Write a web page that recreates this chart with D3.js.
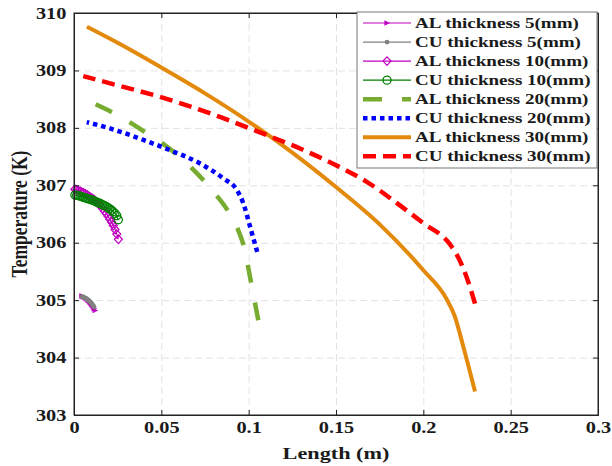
<!DOCTYPE html>
<html><head><meta charset="utf-8">
<script src="https://cdn.jsdelivr.net/npm/d3@7"></script>
<style>
body{margin:0;background:#fff;}
svg text{font-family:"Liberation Serif","Times New Roman",serif;font-weight:bold;fill:#1a1a1a;}
</style></head><body>
<svg id="chart" width="612" height="466"></svg>
<script>
// Axis ticks
const xTicks = [0, 0.05, 0.1, 0.15, 0.2, 0.25, 0.3];
const yTicks = [303, 304, 305, 306, 307, 308, 309, 310];

// Legend labels
const seriesLabels = [
  "AL thickness 5(mm)", "CU thickness 5(mm)",
  "AL thickness 10(mm)", "CU thickness 10(mm)",
  "AL thickness 20(mm)", "CU thickness 20(mm)",
  "AL thickness 30(mm)", "CU thickness 30(mm)"
];

// Temperature (K) along the length (m) for each plate
const al5X = [0.0045,0.0050,0.0055,0.0060,0.0065,0.0070,0.0075,0.0080,0.0085,0.0090,0.0095,0.0100,0.0105,0.0110,0.0115,0.0121];
const al5T = [305.07,305.065,305.06,305.05,305.04,305.03,305.02,305.00,304.99,304.97,304.95,304.93,304.91,304.88,304.85,304.82];
const cu5X = [0.0046,0.0051,0.0056,0.0061,0.0066,0.0071,0.0076,0.0081,0.0086,0.0091,0.0096,0.0101,0.0106,0.0111,0.0115];
const cu5T = [305.06,305.055,305.05,305.04,305.035,305.025,305.015,305.00,304.99,304.975,304.96,304.94,304.92,304.90,304.88];

const al10X = [0.0005,0.0015,0.0025,0.0035,0.0045,0.0055,0.0065,0.0075,0.0085,0.0095,0.0105,0.0115,0.0125,0.0135,0.0145,0.0155,0.0165,0.0175,0.0185,0.0195,0.0205,0.0215,0.0225,0.0235,0.0245,0.0254];
const al10T = [306.93,306.92,306.91,306.895,306.88,306.865,306.85,306.83,306.81,306.79,306.77,306.75,306.72,306.69,306.66,306.63,306.59,306.55,306.51,306.46,306.41,306.36,306.30,306.23,306.15,306.06];
const cu10X = [0.0005,0.0015,0.0025,0.0035,0.0045,0.0055,0.0065,0.0075,0.0085,0.0095,0.0105,0.0115,0.0125,0.0135,0.0145,0.0155,0.0165,0.0175,0.0185,0.0195,0.0205,0.0215,0.0225,0.0235,0.0245,0.0254];
const cu10T = [306.83,306.825,306.82,306.81,306.80,306.79,306.78,306.77,306.76,306.75,306.74,306.73,306.715,306.70,306.69,306.675,306.66,306.645,306.63,306.61,306.59,306.565,306.54,306.51,306.47,306.40];

const al20X = [0.0124,0.025,0.04,0.055,0.07,0.08,0.088,0.094,0.098,0.1005,0.103,0.1055];
const al20T = [308.41,308.22,307.94,307.63,307.22,306.88,306.56,306.22,305.85,305.45,305.05,304.65];
const cu20X = [0.0073,0.0206,0.0397,0.0550,0.0722,0.0855,0.0932,0.0969,0.1008,0.1049];
const cu20T = [308.10,307.99,307.79,307.61,307.38,307.12,306.92,306.69,306.28,305.84];

const al30X = [0.0074,0.025,0.05,0.075,0.1,0.125,0.15,0.175,0.2,0.2133,0.218,0.2229,0.2296];
const al30T = [309.76,309.48,309.05,308.60,308.11,307.57,306.97,306.32,305.52,305.02,304.72,304.19,303.41];
const cu30X = [0.0053,0.025,0.0492,0.0836,0.1065,0.1294,0.15,0.1676,0.1866,0.2,0.2153,0.219,0.2248,0.2296];
const cu30T = [308.90,308.74,308.54,308.19,307.92,307.64,307.35,307.06,306.65,306.34,305.97,305.80,305.40,304.94];

// Drawing styles per series, in legend order
const styles = [
  {color:"#c000c0", width:1.2, dash:null, marker:"tri"},
  {color:"#808080", width:1.2, dash:null, marker:"dot"},
  {color:"#c000c0", width:1.2, dash:null, marker:"diamond"},
  {color:"#008000", width:1.2, dash:null, marker:"circle"},
  {color:"#77ac30", width:4.5, dash:[17,19], fit:"both", marker:null},
  {color:"#0000ff", width:4.5, dash:[4.5,4], fit:"end", marker:null},
  {color:"#e38a0c", width:4,   dash:null, marker:null},
  {color:"#ff0000", width:4.5, dash:[13,7], fit:"end", marker:null}
];
const seriesData = [
  [al5X, al5T], [cu5X, cu5T], [al10X, al10T], [cu10X, cu10T],
  [al20X, al20T], [cu20X, cu20T], [al30X, al30T], [cu30X, cu30T]
];

const SX = 1.27; // horizontal stretch of the lettering
const svg = d3.select("#chart");
const m = {left:74, top:13, right:14, bottom:51};
const W = 612 - m.left - m.right, H = 466 - m.top - m.bottom;
const g = svg.append("g").attr("transform", `translate(${m.left},${m.top})`);

const x = d3.scaleLinear().domain([0, 0.3]).range([0, W]);
const y = d3.scaleLinear().domain([303, 310]).range([H, 0]);

// Grid
const gridStyle = sel => {
  sel.select(".domain").remove();
  sel.selectAll(".tick line").attr("stroke", "#e2e2e2").attr("stroke-width", 1).attr("stroke-dasharray", "7,4");
};
g.append("g").call(d3.axisBottom(x).tickValues(xTicks).tickSize(H).tickFormat(""))
  .call(gridStyle);
g.append("g").call(d3.axisLeft(y).tickValues(yTicks).tickSize(-W).tickFormat(""))
  .call(gridStyle);

// Markers
const markerPath = {
  tri: "M-2.6,-2.8L3,0L-2.6,2.8Z",
  diamond: "M0,-4.3L4,0L0,4.3L-4,0Z"
};
function drawMarker(sel, type, color) {
  if (type === "circle") {
    sel.append("circle").attr("r", 4).attr("fill", "none").attr("stroke", color).attr("stroke-width", 1.3);
  } else if (type === "dot") {
    sel.append("circle").attr("r", 2.4).attr("fill", color);
  } else if (type === "tri") {
    sel.append("path").attr("d", markerPath.tri).attr("fill", color);
  } else if (type === "diamond") {
    sel.append("path").attr("d", markerPath.diamond).attr("fill", "none").attr("stroke", color).attr("stroke-width", 1.2);
  }
}

// Lines
const line = d3.line().x(d => x(d[0])).y(d => y(d[1])).curve(d3.curveMonotoneX);
const plotG = g.append("g");
seriesData.forEach(([xs, ts], i) => {
  const st = styles[i];
  const pts = xs.map((v, j) => [v, ts[j]]);
  const p = plotG.append("path").datum(pts)
    .attr("d", line)
    .attr("fill", "none")
    .attr("stroke", st.color)
    .attr("stroke-width", st.width)
    .attr("stroke-linejoin", "round");
  if (st.dash) {
    const L = p.node().getTotalLength();
    let [d, gap] = st.dash;
    const P = d + gap;
    if (st.fit === "both") {
      // stretch the pattern so the line starts and ends on a dash
      const n = Math.max(1, Math.round((L - d) / P));
      const s = L / (n * P + d);
      d *= s; gap *= s;
      p.attr("stroke-dasharray", `${d},${gap}`);
    } else {
      // phase the pattern so the line ends on a dash
      const off = ((d - (L % P)) % P + P) % P;
      p.attr("stroke-dasharray", `${d},${gap}`).attr("stroke-dashoffset", off);
    }
  }
  if (st.marker) {
    pts.forEach(q => {
      const mg = plotG.append("g").attr("transform", `translate(${x(q[0])},${y(q[1])})`);
      drawMarker(mg, st.marker, st.color);
    });
  }
});

// Axes with inward ticks
const axStyle = sel => {
  sel.select(".domain").attr("stroke", "#222");
  sel.selectAll(".tick line").attr("stroke", "#222");
};
const xa = g.append("g").attr("transform", `translate(0,${H})`)
  .call(d3.axisBottom(x).tickValues(xTicks).tickSize(-5).tickPadding(6.5).tickFormat(d3.format("")))
  .call(axStyle);
xa.selectAll("text").attr("font-size", 16).attr("fill", "#1a1a1a")
  .attr("font-family", "Liberation Serif").attr("font-weight", "bold")
  .attr("transform", `scale(${SX},1)`);
const ya = g.append("g")
  .call(d3.axisLeft(y).tickValues(yTicks).tickSize(-5).tickPadding(6).tickFormat(d3.format("d")))
  .call(axStyle);
ya.selectAll("text").attr("font-size", 16).attr("fill", "#1a1a1a")
  .attr("font-family", "Liberation Serif").attr("font-weight", "bold")
  .attr("transform", `scale(${SX},1)`);
g.append("g").call(d3.axisTop(x).tickValues(xTicks).tickSize(-5).tickFormat("")).call(axStyle);
g.append("g").attr("transform", `translate(${W},0)`)
  .call(d3.axisRight(y).tickValues(yTicks).tickSize(-5).tickFormat("")).call(axStyle);
g.append("rect").attr("width", W).attr("height", H).attr("fill", "none").attr("stroke", "#222");

// Axis titles
svg.append("text").attr("transform", `translate(336,459) scale(${SX},1)`)
  .attr("text-anchor", "middle").attr("font-size", 17.5).text("Length (m)");
svg.append("text").attr("transform", `translate(27,214) scale(${SX},1) rotate(-90)`)
  .attr("text-anchor", "middle").attr("font-size", 17.5).text("Temperature (K)");

// Legend
const lg = svg.append("g");
lg.append("rect").attr("x", 357).attr("y", 12).attr("width", 240).attr("height", 156)
  .attr("fill", "#fff").attr("stroke", "#777").attr("stroke-width", 1);
seriesLabels.forEach((lab, i) => {
  const cy = 23 + i * 19.05;
  const st = styles[i];
  lg.append("line").attr("x1", 363).attr("x2", 411).attr("y1", cy).attr("y2", cy)
    .attr("stroke", st.color).attr("stroke-width", st.width)
    .attr("stroke-dasharray", st.dash ? (st.fit === "both" ? "19,20" : st.dash.join(",")) : null);
  if (st.marker) {
    drawMarker(lg.append("g").attr("transform", `translate(387,${cy})`), st.marker, st.color);
  }
  lg.append("text").attr("transform", `translate(415,${cy + 5}) scale(${SX},1)`)
    .attr("font-size", 15).text(lab);
});
</script>
</body></html>
